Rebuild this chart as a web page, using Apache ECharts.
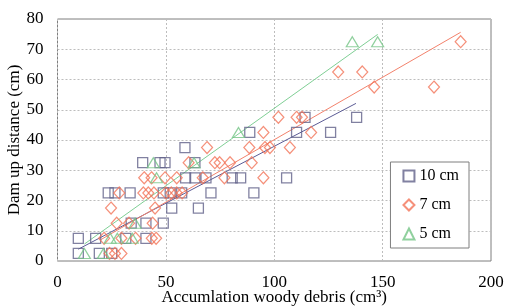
<!DOCTYPE html>
<html><head><meta charset="utf-8">
<script src="https://cdn.jsdelivr.net/npm/echarts@6/dist/echarts.min.js"></script>
<style>html,body{margin:0;padding:0;background:#fff}#c{width:507px;height:307px}</style>
</head><body><div id="c"></div>
<script>
// 10 cm (squares)
const x10 = [9.6,19.3,25, 9.6,17.6,31.5,40.8, 34,40.8,48.8, 52.7,65, 23.4,26.5,33.5,48.8,52,57.3,70.8,90.6, 59.1,63.4,68.5,80.6,84.5,105.7, 39.3,47.3,49.6,63.4, 58.8, 88.7,110.3,126, 114.2,138];
const y10 = [2.5,2.5,2.5, 7.5,7.5,7.5,7.5, 12.5,12.5,12.5, 17.5,17.5, 22.5,22.5,22.5,22.5,22.5,22.5,22.5,22.5, 27.5,27.5,27.5,27.5,27.5,27.5, 32.5,32.5,32.5,32.5, 37.5, 42.5,42.5,42.5, 47.5,47.5];
// 7 cm (diamonds)
const x7 = [24,26.5,29.5, 21.5,29.5,36,43.5,45.5, 27.3,33,43.9, 24.7,45, 28.5,39.6,41.9,44.5,50,52.5,55,57.5, 40,43.4,49.6,55,67,77,95, 60.5,72.6,74.8,79.6,89.6, 69,88.5,95.7,98,107.2, 95,117, 101.9,110.3,112.8, 146.1,173.7, 129.5,140.6, 186];
const y7 = [2.5,2.5,2.5, 7.5,7.5,7.5,7.5,7.5, 12.5,12.5,12.5, 17.5,17.5, 22.5,22.5,22.5,22.5,22.5,22.5,22.5,22.5, 27.5,27.5,27.5,27.5,27.5,27.5,27.5, 32.5,32.5,32.5,32.5,32.5, 37.5,37.5,37.5,37.5,37.5, 42.5,42.5, 47.5,47.5,47.5, 57.5,57.5, 62.5,62.5, 72.5];
// 5 cm (triangles)
const x5 = [12.4,21.2, 24.3,27.6,34.5, 35.8, 45.7, 44.2,63, 83.5, 136,147.7];
const y5 = [2.5,2.5, 7.5,7.5,7.5, 12.5, 27.5, 32.5,32.5, 42.5, 72.5,72.5];
// linear trend lines (endpoints)
const fitX10 = [9.6, 137.7], fitY10 = [3.9, 52.1];
const fitX7 = [19.6, 186], fitY7 = [6.9, 75.6];
const fitX5 = [12.4, 147.7], fitY5 = [5.6, 74.9];
const names = ['10 cm', '7 cm', '5 cm'];
const xTicks = [0, 50, 100, 150, 200];
const yTicks = [0, 10, 20, 30, 40, 50, 60, 70, 80];

const pairs = (xs, ys) => xs.map((x, i) => [x, ys[i]]);
const C10 = '#62628a', C7 = '#f27459', C5 = '#74c486';
const font = 'Liberation Serif';
const chart = echarts.init(document.getElementById('c'), null, {renderer: 'canvas'});
chart.setOption({
  animation: false,
  backgroundColor: '#fff',
  textStyle: {fontFamily: font, color: '#000'},
  grid: {left: 57.5, right: 16, top: 19, bottom: 46, containLabel: false, outerBoundsMode: 'none',
         show: true, borderColor: '#7f7f7f', borderWidth: 1},
  xAxis: {
    type: 'value', min: xTicks[0], max: xTicks[xTicks.length-1], interval: 50,
    name: 'Accumlation woody debris (cm³)', nameLocation: 'middle', nameGap: 28, nameMoveOverlap: false,
    nameTextStyle: {fontFamily: font, fontSize: 17, color: '#000'},
    axisLine: {show: false}, axisTick: {show: false},
    axisLabel: {fontFamily: font, fontSize: 17, color: '#000', margin: 13},
    splitLine: {show: true, lineStyle: {color: '#bdbdbd', type: [2, 2], width: 1}}
  },
  yAxis: {
    type: 'value', min: yTicks[0], max: yTicks[yTicks.length-1], interval: 10,
    name: 'Dam up distance (cm)', nameLocation: 'middle', nameGap: 34, nameMoveOverlap: false,
    nameTextStyle: {fontFamily: font, fontSize: 17, color: '#000'},
    axisLine: {show: false}, axisTick: {show: false},
    axisLabel: {fontFamily: font, fontSize: 17, color: '#000', margin: 14},
    splitLine: {show: true, lineStyle: {color: '#bdbdbd', type: [2, 2], width: 1}}
  },
  legend: {
    data: names, orient: 'vertical', right: 38, top: 162,
    padding: [6, 10, 6, 12], itemGap: 13, itemWidth: 11, itemHeight: 11,
    borderColor: '#7f7f7f', borderWidth: 1, backgroundColor: '#fff',
    textStyle: {fontFamily: font, fontSize: 16, color: '#000'}
  },
  series: [
    {type: 'line', data: pairs(fitX10, fitY10), showSymbol: false, lineStyle: {color: '#5b5b95', width: 1}, silent: true, z: 1},
    {type: 'line', data: pairs(fitX7, fitY7), showSymbol: false, lineStyle: {color: '#f3826c', width: 1}, silent: true, z: 1},
    {type: 'line', data: pairs(fitX5, fitY5), showSymbol: false, lineStyle: {color: '#7fcf95', width: 1}, silent: true, z: 1},
    {name: names[0], type: 'scatter', data: pairs(x10, y10), symbol: 'rect', symbolSize: 10,
     itemStyle: {color: 'rgba(255,255,255,0)', borderColor: C10, borderWidth: 1.3}, z: 3},
    {name: names[1], type: 'scatter', data: pairs(x7, y7), symbol: 'diamond', symbolSize: [11, 12],
     itemStyle: {color: 'rgba(255,255,255,0)', borderColor: C7, borderWidth: 1.2}, z: 3},
    {name: names[2], type: 'scatter', data: pairs(x5, y5), symbol: 'triangle', symbolSize: [12, 10],
     itemStyle: {color: 'rgba(255,255,255,0)', borderColor: C5, borderWidth: 1.2}, z: 3}
  ]
});
</script></body></html>
